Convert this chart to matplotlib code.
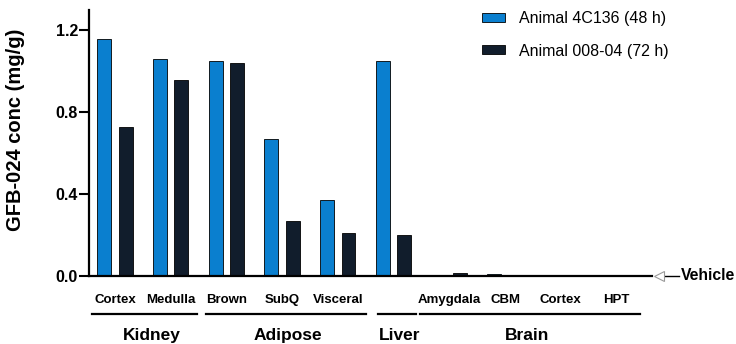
import numpy as np
import matplotlib.pyplot as plt

plt.rcParams['font.family'] = ['Liberation Sans', 'DejaVu Sans']

tissues = ["Cortex", "Medulla", "Brown", "SubQ", "Visceral", "", "Amygdala", "CBM", "Cortex", "HPT"]
animal_4c136 = [1.16, 1.06, 1.05, 0.67, 0.37, 1.05, 0.0, 0.01, 0.0, 0.0]
animal_008_04 = [0.73, 0.96, 1.04, 0.27, 0.21, 0.20, 0.012, 0.0, 0.0, 0.0]
groups = ["Kidney", "Adipose", "Liver", "Brain"]
group_edges = [(-0.41, 1.47), (1.63, 4.5), (4.72, 5.4), (5.47, 9.42)]
group_label_x = [0.66, 3.1, 5.1, 7.4]
yticks = [0.0, 0.4, 0.8, 1.2]

blue = "#0a7fcf"
dark = "#111d2c"

fig = plt.figure(figsize=(7.36, 3.44), dpi=100)
ax = fig.add_axes([0.121, 0.198, 0.765, 0.773])

x = np.arange(len(tissues))
w = 0.25
ax.bar(x - 0.195, animal_4c136, w, color=blue, edgecolor="black", linewidth=0.6,
       label="Animal 4C136 (48 h)")
ax.bar(x + 0.19, animal_008_04, w, color=dark, edgecolor="black", linewidth=0.6,
       label="Animal 008-04 (72 h)")

ax.set_xlim(-0.467, 9.64)
ax.set_ylim(0, 1.30)
ax.set_yticks(yticks)
ax.set_yticklabels([f"{v:.1f}" for v in yticks], fontsize=11.5, fontweight="bold")
ax.tick_params(axis="y", direction="out", length=7, width=1.5, pad=1)
ax.set_xticks([])
for s in ["top", "right"]:
    ax.spines[s].set_visible(False)
for s in ["left", "bottom"]:
    ax.spines[s].set_linewidth(1.6)
ax.set_ylabel("GFB-024 conc (mg/g)", fontsize=14.5, fontweight="bold")
ax.yaxis.set_label_coords(-0.114, 0.55)

trans = ax.get_xaxis_transform()

# tissue labels
for xi, t in zip(x, tissues):
    ax.text(xi, -0.092, t, ha="center", va="center", fontsize=9.5, fontweight="bold",
            transform=trans)

# group lines and labels
for g, (x0, x1), gx in zip(groups, group_edges, group_label_x):
    ax.plot([x0, x1], [-0.145, -0.145], color="black", lw=1.6, transform=trans, clip_on=False)
    ax.text(gx, -0.226, g, ha="center", va="center", fontsize=12.5, fontweight="bold",
            transform=trans)

# vehicle marker
ax.plot([9.84, 10.13], [0, 0], color="black", lw=1.0, clip_on=False)
ax.plot([9.77], [0], marker="<", markersize=7, mfc="white", mec="#9a9a9a", mew=0.8,
        clip_on=False)
ax.text(10.15, 0, "Vehicle", ha="left", va="center", fontsize=11.3, fontweight="bold")

ax.legend(loc="upper left", bbox_to_anchor=(482 / 736, 0.968), bbox_transform=fig.transFigure,
          frameon=False, fontsize=11.5, borderpad=0, borderaxespad=0,
          handlelength=1.44, handleheight=0.5, handletextpad=0.85, labelspacing=1.1)

fig.savefig("out.png", dpi=100)
